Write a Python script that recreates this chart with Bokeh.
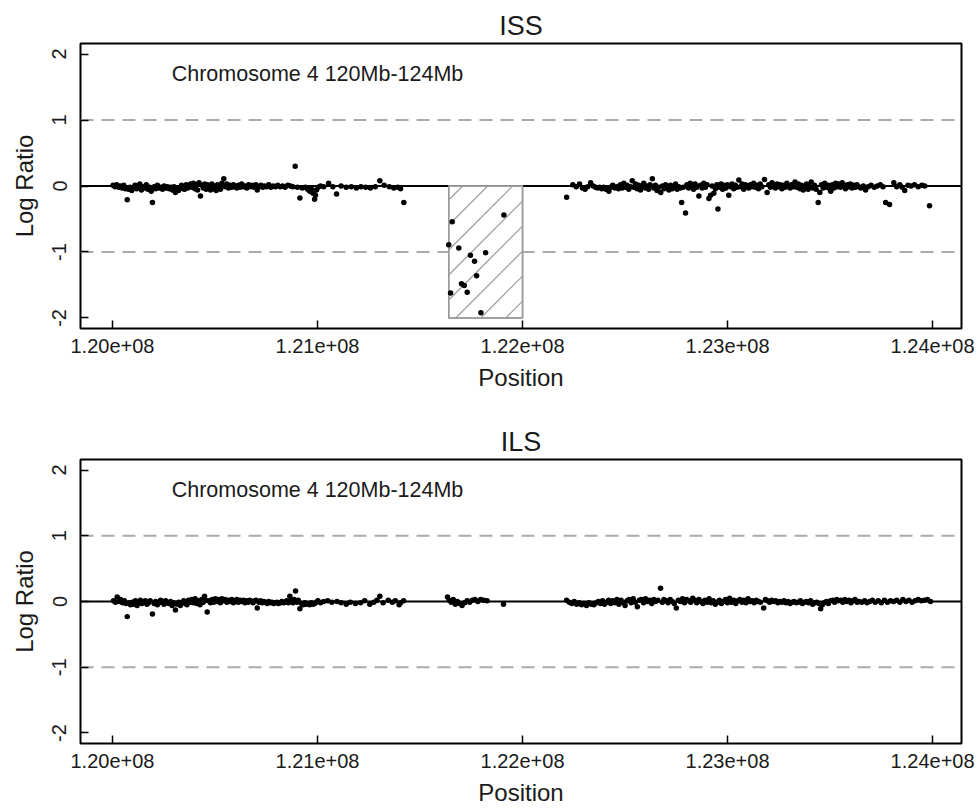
import math
from bokeh.plotting import figure
from bokeh.layouts import column
from bokeh.models import Span, FixedTicker, Range1d
from bokeh.core.properties import value
from bokeh.embed import file_html
from bokeh.resources import INLINE

FONT = "Liberation Sans"
TXT = "#1a1a1a"

# ---------------- axis data ----------------
x_ticks = [120000000, 121000000, 122000000, 123000000, 124000000]
x_tick_labels = ["1.20e+08", "1.21e+08", "1.22e+08", "1.23e+08", "1.24e+08"]
y_ticks = [-2, -1, 0, 1, 2]
y_tick_labels = ["-2", "-1", "0", "1", "2"]
thresholds = [-1, 1]
annot_text = "Chromosome 4 120Mb-124Mb"
annot_x = 121000000
annot_y = 1.7
x_lim = (119844000, 124141000)
y_lim = (-2.16, 2.16)

# ---------------- ISS (top) ----------------
iss_left_mb = [
    120.003, 120.012, 120.020, 120.031, 120.038, 120.047, 120.055, 120.063, 120.072, 120.078,
    120.086, 120.094, 120.101, 120.110, 120.118, 120.126, 120.133, 120.141, 120.150, 120.158,
    120.165, 120.173, 120.181, 120.189, 120.195, 120.203, 120.211, 120.219, 120.228, 120.236,
    120.244, 120.252, 120.259, 120.268, 120.276, 120.284, 120.292, 120.300, 120.307, 120.315,
    120.322, 120.330, 120.337, 120.345, 120.352, 120.360, 120.367, 120.374, 120.381, 120.388,
    120.395, 120.402, 120.409, 120.415, 120.422, 120.429, 120.436, 120.443, 120.450, 120.457,
    120.464, 120.471, 120.478, 120.485, 120.492, 120.499, 120.506, 120.513, 120.520, 120.527,
    120.534, 120.543, 120.550, 120.558, 120.566, 120.574, 120.582, 120.590, 120.598, 120.606,
    120.614, 120.622, 120.630, 120.638, 120.646, 120.655, 120.664, 120.673, 120.682, 120.691,
    120.700, 120.706, 120.715, 120.724, 120.733, 120.742, 120.752, 120.762, 120.773, 120.784,
    120.795, 120.806, 120.818, 120.830, 120.842, 120.855, 120.868, 120.880, 120.891, 120.902,
    120.914, 120.925, 120.940, 120.952, 120.962, 120.970, 120.978, 120.986, 120.990, 120.995,
    121.003, 121.015, 121.030, 121.054, 121.075, 121.093, 121.115, 121.140, 121.165, 121.190,
    121.212, 121.235, 121.258, 121.282, 121.304, 121.325, 121.350, 121.372, 121.392, 121.405, 121.421,
]
iss_left_ratio = [
    0.01, -0.01, 0.02, -0.02, 0.00, -0.03, 0.01, -0.04, -0.21, -0.05,
    -0.02, -0.07, -0.03, 0.01, -0.04, -0.02, 0.03, -0.06, -0.01, -0.03,
    0.02, -0.05, -0.02, -0.08, -0.25, -0.01, -0.04, 0.01, -0.03, -0.02,
    -0.05, 0.00, -0.03, -0.01, -0.04, -0.02, -0.06, -0.01, -0.10, -0.03,
    -0.07, -0.02, 0.01, -0.04, -0.05, 0.02, -0.03, -0.01, 0.03, -0.02,
    0.04, -0.04, 0.02, -0.06, 0.05, -0.15, 0.01, -0.03, 0.03, -0.05,
    0.02, -0.02, -0.06, 0.03, -0.04, 0.00, -0.07, 0.02, -0.03, -0.05,
    0.04, 0.11, -0.01, 0.03, -0.03, 0.01, -0.02, 0.02, -0.01, -0.03,
    0.01, -0.02, 0.03, -0.01, 0.00, -0.03, 0.02, -0.01, 0.01, -0.02,
    0.02, -0.06, -0.01, 0.01, -0.02, 0.00, -0.01, 0.02, -0.02, 0.00,
    -0.01, 0.01, -0.01, 0.00, -0.02, 0.01, 0.00, -0.01, 0.30, -0.02,
    -0.18, -0.03, -0.02, -0.05, -0.08, -0.04, -0.11, -0.20, -0.14, -0.06,
    -0.02, 0.00, -0.01, 0.04, -0.01, -0.12, 0.00, -0.02, -0.01, -0.03,
    -0.01, -0.02, -0.03, -0.01, 0.08, 0.01, -0.01, -0.03, -0.02, -0.04, -0.25,
]
iss_loss_mb = [121.657, 121.909, 121.640, 121.689, 121.820, 121.746, 121.766,
               121.776, 121.702, 121.716, 121.649, 121.730, 121.797]
iss_loss_ratio = [-0.54, -0.44, -0.89, -0.94, -1.01, -1.05, -1.14,
                  -1.36, -1.48, -1.51, -1.62, -1.61, -1.92]
iss_right_mb = [
    122.215, 122.245, 122.262, 122.278, 122.292, 122.305, 122.318, 122.332, 122.345, 122.356,
    122.366, 122.376, 122.386, 122.396, 122.406, 122.414, 122.421, 122.430, 122.440, 122.450,
    122.459, 122.468, 122.477, 122.486, 122.494, 122.502, 122.510, 122.518, 122.526, 122.535,
    122.543, 122.551, 122.559, 122.567, 122.575, 122.583, 122.591, 122.599, 122.607, 122.615,
    122.622, 122.633, 122.640, 122.648, 122.656, 122.664, 122.674, 122.682, 122.690, 122.698,
    122.706, 122.714, 122.722, 122.730, 122.738, 122.746, 122.754, 122.762, 122.770, 122.776,
    122.784, 122.795, 122.802, 122.810, 122.818, 122.826, 122.834, 122.842, 122.850, 122.860,
    122.868, 122.876, 122.884, 122.892, 122.900, 122.909, 122.917, 122.925, 122.933, 122.941,
    122.948, 122.953, 122.960, 122.968, 122.976, 122.984, 122.992, 123.000, 123.006, 123.014,
    123.022, 123.030, 123.038, 123.046, 123.055, 123.063, 123.071, 123.079, 123.087, 123.095,
    123.103, 123.111, 123.119, 123.127, 123.135, 123.143, 123.151, 123.159, 123.167, 123.180,
    123.193, 123.201, 123.209, 123.217, 123.225, 123.233, 123.241, 123.249, 123.257, 123.265,
    123.273, 123.281, 123.289, 123.297, 123.305, 123.313, 123.321, 123.329, 123.337, 123.345,
    123.353, 123.361, 123.369, 123.377, 123.385, 123.393, 123.401, 123.408, 123.416, 123.424,
    123.432, 123.442, 123.450, 123.458, 123.466, 123.474, 123.482, 123.490, 123.498, 123.503,
    123.511, 123.519, 123.527, 123.535, 123.543, 123.551, 123.559, 123.567, 123.575, 123.583,
    123.591, 123.599, 123.607, 123.615, 123.623, 123.631, 123.639, 123.650, 123.662, 123.673,
    123.686, 123.700, 123.715, 123.730, 123.745, 123.758, 123.771, 123.790, 123.811, 123.825,
    123.840, 123.852, 123.864, 123.880, 123.895, 123.912, 123.930, 123.948, 123.962, 123.985,
]
iss_right_ratio = [
    -0.17, 0.02, -0.01, 0.03, -0.03, -0.05, -0.01, 0.05, 0.00, -0.02,
    -0.03, -0.02, -0.04, -0.02, -0.05, -0.03, -0.08, -0.02, 0.01, -0.03,
    -0.01, -0.04, 0.02, -0.03, 0.04, -0.02, 0.01, -0.05, -0.01, 0.08,
    -0.02, 0.03, -0.04, 0.01, -0.06, -0.02, 0.04, -0.03, 0.00, -0.05,
    0.02, 0.11, -0.03, 0.01, -0.07, -0.02, -0.10, 0.00, -0.04, 0.02,
    -0.03, -0.06, 0.01, -0.04, -0.02, 0.03, -0.05, -0.01, -0.03, -0.25,
    -0.02, -0.41, 0.02, -0.03, 0.04, -0.01, -0.05, 0.03, -0.02, -0.15,
    0.01, -0.03, 0.04, -0.02, 0.02, -0.19, -0.14, 0.00, -0.11, -0.04,
    0.02, -0.35, -0.02, 0.03, -0.05, 0.01, -0.03, 0.02, -0.14, -0.01,
    0.03, -0.04, 0.01, -0.02, 0.09, -0.01, 0.03, -0.05, 0.02, 0.00,
    -0.03, 0.02, -0.01, 0.04, -0.02, 0.01, -0.04, 0.03, -0.01, 0.10,
    -0.10, 0.02, -0.02, 0.05, 0.00, -0.03, 0.03, -0.01, 0.02, -0.04,
    0.01, -0.02, 0.04, 0.00, -0.03, 0.02, -0.01, 0.06, -0.02, 0.03,
    -0.04, 0.01, -0.06, -0.02, 0.03, -0.05, -0.01, 0.06, -0.03, 0.01,
    -0.05, -0.25, -0.10, 0.02, -0.03, 0.04, -0.02, 0.01, -0.04, -0.08,
    0.02, -0.03, 0.04, -0.01, 0.03, -0.02, 0.05, 0.00, -0.04, 0.02,
    -0.01, 0.03, -0.03, 0.01, -0.02, 0.02, -0.01, -0.03, 0.00, -0.06,
    -0.01, 0.01, -0.02, 0.00, 0.02, -0.01, -0.25, -0.28, 0.05, -0.01,
    0.02, -0.02, -0.07, 0.01, 0.00, 0.02, -0.01, 0.01, 0.00, -0.30,
]
# aberrant (loss) region drawn hatched in ISS
cnv_start = 121640000
cnv_end = 122000000
cnv_low = -2
cnv_high = 0

# ---------------- ILS (bottom) ----------------
ils_left_mb = [
    120.005, 120.014, 120.023, 120.032, 120.040, 120.049, 120.058, 120.066, 120.072, 120.080,
    120.088, 120.096, 120.104, 120.112, 120.120, 120.128, 120.136, 120.144, 120.152, 120.160,
    120.168, 120.176, 120.184, 120.195, 120.203, 120.211, 120.219, 120.227, 120.235, 120.243,
    120.251, 120.259, 120.267, 120.275, 120.283, 120.291, 120.299, 120.307, 120.315, 120.323,
    120.331, 120.339, 120.347, 120.355, 120.363, 120.371, 120.379, 120.387, 120.395, 120.403,
    120.411, 120.419, 120.427, 120.435, 120.443, 120.449, 120.455, 120.462, 120.470, 120.478,
    120.486, 120.494, 120.502, 120.510, 120.518, 120.526, 120.534, 120.542, 120.550, 120.558,
    120.566, 120.574, 120.582, 120.590, 120.598, 120.606, 120.614, 120.622, 120.630, 120.638,
    120.646, 120.654, 120.662, 120.670, 120.678, 120.686, 120.694, 120.700, 120.706, 120.714,
    120.722, 120.730, 120.738, 120.746, 120.754, 120.762, 120.770, 120.778, 120.786, 120.794,
    120.802, 120.810, 120.818, 120.826, 120.834, 120.842, 120.850, 120.858, 120.865, 120.872,
    120.880, 120.886, 120.893, 120.900, 120.906, 120.914, 120.922, 120.930, 120.938, 120.946,
    120.954, 120.962, 120.970, 120.978, 120.986, 120.994, 121.002, 121.015, 121.030, 121.050,
    121.070, 121.095, 121.115, 121.140, 121.160, 121.185, 121.210, 121.230, 121.255, 121.275,
    121.290, 121.304, 121.320, 121.345, 121.365, 121.380, 121.398, 121.405, 121.420,
]
ils_left_ratio = [
    0.01, -0.01, 0.07, 0.00, 0.03, -0.02, 0.01, -0.03, -0.23, -0.02,
    -0.05, -0.01, -0.04, 0.01, -0.06, -0.02, 0.02, -0.03, -0.01, 0.01,
    -0.04, -0.02, 0.01, -0.19, -0.03, 0.00, -0.05, -0.02, 0.02, -0.01,
    -0.04, 0.01, -0.02, -0.03, 0.00, -0.06, -0.02, -0.13, -0.04, -0.01,
    -0.06, -0.02, 0.01, -0.03, -0.05, 0.02, -0.01, 0.03, -0.02, 0.04,
    -0.03, 0.01, -0.05, 0.03, -0.01, 0.08, 0.02, -0.16, 0.01, -0.02,
    0.03, -0.01, 0.04, 0.00, 0.03, -0.02, 0.04, 0.01, 0.03, -0.01,
    0.02, 0.00, 0.03, -0.02, 0.01, 0.03, -0.01, 0.02, 0.00, 0.02,
    -0.02, 0.01, -0.01, 0.02, 0.00, -0.02, 0.01, 0.02, -0.10, -0.01,
    0.01, -0.02, 0.00, -0.01, -0.03, 0.00, -0.02, -0.01, -0.03, -0.02,
    -0.01, -0.03, -0.02, 0.00, -0.02, -0.01, 0.01, -0.02, 0.08, 0.01,
    -0.02, 0.03, 0.16, -0.01, 0.02, -0.11, -0.03, -0.05, -0.02, -0.04,
    -0.03, -0.05, -0.02, -0.04, -0.03, -0.01, 0.01, -0.02, 0.00, 0.01,
    -0.01, 0.00, -0.02, -0.04, -0.01, -0.03, -0.02, 0.01, -0.04, -0.01,
    0.02, 0.08, -0.02, 0.02, -0.01, 0.01, -0.05, -0.02, 0.01,
]
ils_mid_mb = [
    121.634, 121.642, 121.652, 121.662, 121.672, 121.682, 121.693, 121.705, 121.718, 121.730,
    121.742, 121.755, 121.768, 121.782, 121.796, 121.810, 121.827, 121.907,
]
ils_mid_ratio = [
    0.07, 0.02, -0.01, 0.03, -0.04, 0.00, -0.03, -0.06, -0.02, 0.01,
    -0.01, 0.02, 0.03, 0.00, 0.03, 0.02, 0.01, -0.04,
]
ils_right_mb = [
    122.215, 122.228, 122.240, 122.252, 122.264, 122.276, 122.288, 122.300, 122.312, 122.324,
    122.336, 122.348, 122.360, 122.370, 122.380, 122.390, 122.400, 122.410, 122.420, 122.430,
    122.440, 122.450, 122.460, 122.470, 122.480, 122.490, 122.500, 122.510, 122.520, 122.530,
    122.540, 122.550, 122.560, 122.570, 122.580, 122.590, 122.600, 122.610, 122.620, 122.630,
    122.640, 122.650, 122.660, 122.673, 122.682, 122.690, 122.700, 122.710, 122.720, 122.730,
    122.740, 122.750, 122.760, 122.770, 122.780, 122.790, 122.800, 122.810, 122.820, 122.830,
    122.840, 122.850, 122.860, 122.870, 122.880, 122.890, 122.900, 122.910, 122.920, 122.930,
    122.940, 122.950, 122.960, 122.970, 122.980, 122.990, 123.000, 123.010, 123.020, 123.030,
    123.040, 123.050, 123.060, 123.070, 123.080, 123.090, 123.100, 123.110, 123.120, 123.130,
    123.140, 123.150, 123.160, 123.176, 123.185, 123.195, 123.205, 123.215, 123.225, 123.235,
    123.245, 123.255, 123.265, 123.275, 123.285, 123.295, 123.305, 123.315, 123.325, 123.335,
    123.345, 123.355, 123.365, 123.375, 123.385, 123.395, 123.405, 123.415, 123.425, 123.435,
    123.445, 123.454, 123.462, 123.472, 123.482, 123.492, 123.502, 123.512, 123.522, 123.532,
    123.542, 123.552, 123.562, 123.572, 123.582, 123.592, 123.602, 123.612, 123.622, 123.632,
    123.642, 123.655, 123.668, 123.680, 123.693, 123.706, 123.720, 123.735, 123.750, 123.765,
    123.780, 123.795, 123.810, 123.825, 123.840, 123.855, 123.870, 123.885, 123.900, 123.915,
    123.930, 123.945, 123.960, 123.975, 123.990,
]
ils_right_ratio = [
    0.02, -0.01, -0.03, 0.00, -0.04, -0.02, -0.05, -0.03, -0.06, -0.02,
    -0.04, -0.05, -0.02, 0.00, -0.03, 0.01, -0.04, -0.01, 0.02, -0.03,
    0.01, -0.02, 0.03, -0.04, 0.02, -0.01, -0.06, 0.01, 0.03, -0.02,
    0.04, -0.01, -0.08, 0.02, 0.03, -0.02, 0.04, 0.00, 0.02, -0.03,
    0.03, 0.00, 0.02, 0.20, -0.01, 0.03, 0.01, -0.02, 0.03, 0.00,
    -0.03, -0.10, 0.02, 0.00, 0.04, -0.02, 0.03, 0.01, -0.01, 0.05,
    0.02, -0.02, 0.03, 0.00, -0.03, 0.02, -0.01, 0.04, -0.02, 0.01,
    -0.04, -0.01, 0.02, -0.03, 0.00, 0.03, -0.02, 0.05, -0.01, 0.02,
    -0.03, 0.01, 0.03, -0.01, 0.02, -0.02, 0.04, 0.00, 0.01, -0.02,
    0.02, 0.00, -0.01, -0.10, 0.03, 0.01, -0.01, 0.02, 0.00, 0.01,
    -0.02, 0.00, -0.01, 0.01, -0.02, 0.00, -0.03, -0.01, 0.00, -0.02,
    -0.01, 0.01, -0.03, -0.01, 0.00, -0.02, 0.01, -0.04, -0.02, -0.01,
    -0.03, -0.11, -0.05, -0.02, 0.00, -0.03, 0.01, 0.02, -0.01, 0.03,
    0.01, 0.02, -0.01, 0.03, 0.00, 0.02, -0.02, 0.01, 0.03, -0.01,
    0.00, -0.01, 0.01, -0.02, 0.00, 0.02, -0.01, 0.01, -0.02, 0.02,
    -0.01, 0.01, 0.00, 0.02, -0.01, 0.03, 0.00, 0.02, -0.01, 0.01,
    0.03, 0.01, 0.02, 0.03, 0.00,
]

FIG_W = 975
BORDER_L = 80
BORDER_R = 14


def mb_to_bp(values):
    return [v * 1e6 for v in values]


def hatch_segments(region, frame_w, frame_h, spacing=25.0, phase=18.0):
    """45-degree '/' hatch lines inside the region (spacing in screen px)."""
    left, right, low, high = region
    sx = frame_w / (x_lim[1] - x_lim[0])
    sy = frame_h / (y_lim[1] - y_lim[0])
    w = (right - left) * sx
    h = (high - low) * sy
    x0, y0, x1, y1 = [], [], [], []
    c = phase - spacing * math.ceil((phase + w) / spacing)
    while c < h:
        u0 = max(0.0, -c)
        u1 = min(w, h - c)
        if u1 > u0:
            x0.append(left + u0 / sx)
            y0.append(low + (u0 + c) / sy)
            x1.append(left + u1 / sx)
            y1.append(low + (u1 + c) / sy)
        c += spacing
    return x0, y0, x1, y1


def make_panel(title, series, height, border_top, border_bottom, region=None):
    p = figure(width=FIG_W, height=height,
               x_range=Range1d(*x_lim), y_range=Range1d(*y_lim),
               output_backend="svg", toolbar_location=None,
               min_border_left=BORDER_L, min_border_right=BORDER_R,
               min_border_top=border_top, min_border_bottom=border_bottom)
    p.background_fill_color = "white"
    p.border_fill_color = "white"
    p.outline_line_color = "black"
    p.outline_line_width = 2
    p.grid.visible = False

    p.title.text = title
    p.title.align = "center"
    p.title.text_font = FONT
    p.title.text_font_size = "27px"
    p.title.text_font_style = "normal"
    p.title.text_color = TXT
    p.title.standoff = 6

    for ax in (p.xaxis[0], p.yaxis[0]):
        ax.axis_line_color = None
        ax.major_tick_in = 8
        ax.major_tick_out = 0
        ax.major_tick_line_width = 1.5
        ax.major_tick_line_color = "black"
        ax.minor_tick_line_color = None
        ax.major_label_text_font = FONT
        ax.major_label_text_font_size = "20px"
        ax.major_label_text_color = TXT
        ax.axis_label_text_font = FONT
        ax.axis_label_text_font_size = "24px"
        ax.axis_label_text_font_style = "normal"
        ax.axis_label_text_color = TXT

    p.xaxis.ticker = FixedTicker(ticks=x_ticks)
    p.xaxis.major_label_overrides = dict(zip(x_ticks, x_tick_labels))
    p.xaxis.axis_label = "Position"
    p.xaxis.major_label_standoff = 10
    p.xaxis.axis_label_standoff = 8

    p.yaxis.ticker = FixedTicker(ticks=y_ticks)
    p.yaxis.major_label_overrides = dict(zip(y_ticks, y_tick_labels))
    p.yaxis.major_label_orientation = "vertical"
    p.yaxis.axis_label = "Log Ratio"
    p.yaxis.major_label_standoff = 14
    p.yaxis.axis_label_standoff = 12

    for t in thresholds:
        p.add_layout(Span(location=t, dimension="width", line_color="#ababab",
                          line_width=2, line_dash="13 8", level="underlay"))
    p.add_layout(Span(location=0, dimension="width", line_color="black",
                      line_width=2, level="underlay"))

    if region is not None:
        frame_w = FIG_W - BORDER_L - BORDER_R
        frame_h = height - border_top - border_bottom
        p.quad(left=[region[0]], right=[region[1]], bottom=[region[2]], top=[region[3]],
               fill_color="white", line_color="#9a9a9a", line_width=1.5)
        hx0, hy0, hx1, hy1 = hatch_segments(region, frame_w, frame_h)
        p.segment(x0=hx0, y0=hy0, x1=hx1, y1=hy1, line_color="#a0a0a0",
                  line_width=1.3)
        p.quad(left=[region[0]], right=[region[1]], bottom=[region[2]], top=[region[3]],
               fill_color=None, line_color="#9a9a9a", line_width=1.5)

    for pos_mb, ratio in series:
        p.scatter(mb_to_bp(pos_mb), ratio, size=5.5, fill_color="black",
                  line_color="black", line_width=0)

    p.text(x=[annot_x], y=[annot_y], text=[annot_text], text_align="center",
           text_baseline="middle", text_font=value(FONT), text_font_size="21.5px",
           text_color=TXT)
    return p


p1 = make_panel("ISS",
                [(iss_left_mb, iss_left_ratio), (iss_loss_mb, iss_loss_ratio),
                 (iss_right_mb, iss_right_ratio)],
                420, 43, 92,
                region=(cnv_start, cnv_end, cnv_low, cnv_high))
p2 = make_panel("ILS",
                [(ils_left_mb, ils_left_ratio), (ils_mid_mb, ils_mid_ratio),
                 (ils_right_mb, ils_right_ratio)],
                388, 39, 63)

layout = column(p1, p2, spacing=0)
open("out.html", "w").write(file_html(layout, INLINE))
